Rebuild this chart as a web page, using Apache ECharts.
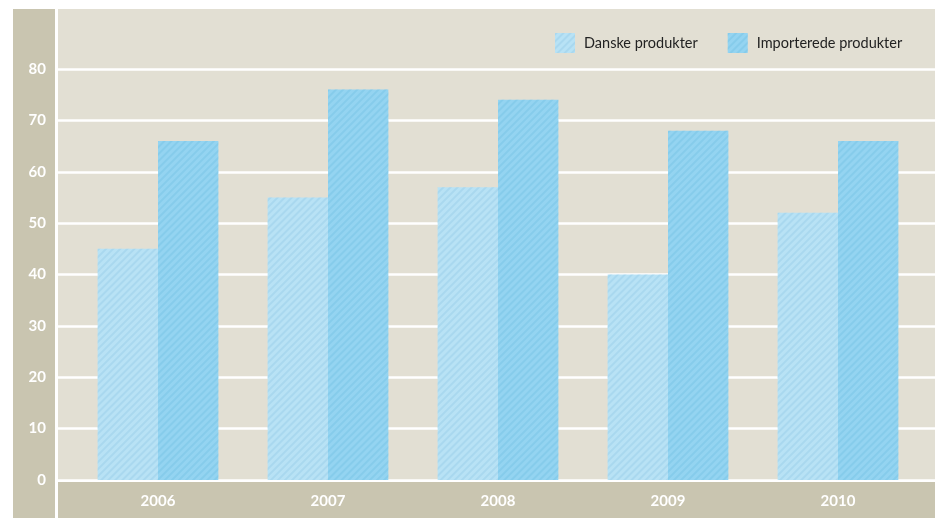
<!DOCTYPE html>
<html>
<head>
<meta charset="utf-8">
<script src="https://cdn.jsdelivr.net/npm/echarts@6/dist/echarts.min.js"></script>
<style>html,body{margin:0;padding:0;background:#fff;}#c{width:935px;height:518px;}</style>
</head>
<body>
<div id="c"></div>
<script>
const categories = ['2006', '2007', '2008', '2009', '2010'];
const danske = [45, 55, 57, 40, 52];
const importerede = [66, 76, 74, 68, 66];
const seriesNames = ['Danske produkter', 'Importerede produkter'];

const chart = echarts.init(document.getElementById('c'));
const decalStyle = (c) => ({
  symbol: 'rect', symbolSize: 1,
  dashArrayX: [1, 0], dashArrayY: [2, 3],
  rotation: -Math.PI / 4,
  color: c
});
const tickFont = {color: '#fff', fontWeight: 'bold', fontSize: 15, fontFamily: 'Lato'};
chart.setOption({
  animation: false,
  textStyle: {fontFamily: 'Lato'},
  graphic: [
    {type: 'rect', z: -10, silent: true, shape: {x: 13, y: 9, width: 42, height: 509}, style: {fill: '#c9c5b0'}},
    {type: 'rect', z: -10, silent: true, shape: {x: 58, y: 9, width: 877, height: 471}, style: {fill: '#e2dfd3'}},
    {type: 'rect', z: -10, silent: true, shape: {x: 58, y: 482, width: 877, height: 36}, style: {fill: '#c9c5b0'}}
  ],
  legend: {
    orient: 'horizontal', left: 550, top: 28, width: 385,
    icon: 'rect',
    itemWidth: 20, itemHeight: 20, itemGap: 30,
    textStyle: {fontSize: 14.5, color: '#222', fontFamily: 'Lato', padding: [0, 0, 0, 4]},
    data: seriesNames
  },
  grid: [
    {left: 58, right: 0, top: 69, bottom: 38},
    {left: 73, right: 12, top: 69, bottom: 38}
  ],
  xAxis: [
    {type: 'category', gridIndex: 0, data: categories, show: false},
    {
      type: 'category', gridIndex: 1, data: categories,
      axisLine: {show: false}, axisTick: {show: false},
      axisLabel: Object.assign({margin: 14}, tickFont)
    }
  ],
  yAxis: [
    {
      type: 'value', gridIndex: 0, min: 0, max: 80, interval: 10,
      axisLine: {show: false}, axisTick: {show: false},
      axisLabel: Object.assign({margin: 12}, tickFont),
      splitLine: {lineStyle: {color: '#fff', width: 2.5}}
    },
    {
      type: 'value', gridIndex: 1, min: 0, max: 80, interval: 10,
      axisLine: {show: false}, axisTick: {show: false},
      axisLabel: {show: false}, splitLine: {show: false}
    }
  ],
  series: [
    {name: seriesNames[0], type: 'bar', xAxisIndex: 1, yAxisIndex: 1, data: danske, barGap: '0%', barCategoryGap: '29%',
     itemStyle: {color: '#b8e2f5', decal: decalStyle('rgba(150,205,230,0.45)')}},
    {name: seriesNames[1], type: 'bar', xAxisIndex: 1, yAxisIndex: 1, data: importerede, barGap: '0%', barCategoryGap: '29%',
     itemStyle: {color: '#94d4f1', decal: decalStyle('rgba(120,195,230,0.5)')}}
  ]
});
</script>
</body>
</html>
